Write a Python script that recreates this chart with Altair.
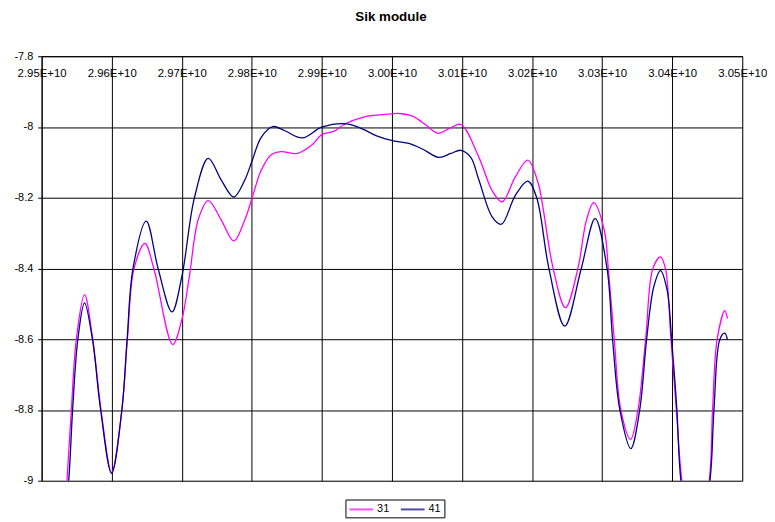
import altair as alt
import pandas as pd

# Series "31" (magenta)
x_31 = [2.95329e10, 2.95362e10, 2.95424e10, 2.95495e10, 2.95612e10, 2.95729e10, 2.95848e10,
        2.95998e10, 2.96145e10, 2.96224e10, 2.96319e10, 2.96474e10, 2.96601e10, 2.96870e10,
        2.97001e10, 2.97110e10, 2.97237e10, 2.97378e10, 2.97566e10, 2.97742e10, 2.97897e10,
        2.98005e10, 2.98132e10, 2.98273e10, 2.98414e10, 2.98650e10, 2.98862e10, 2.99004e10,
        2.99173e10, 2.99315e10, 2.99593e10, 2.99993e10, 3.00106e10, 3.00300e10, 3.00488e10,
        3.00657e10, 3.00813e10, 3.00982e10, 3.01241e10, 3.01430e10, 3.01572e10,
        3.01759e10, 3.01939e10, 3.02089e10, 3.02145e10, 3.02301e10, 3.02476e10, 3.02654e10,
        3.02775e10, 3.02880e10, 3.03031e10, 3.03088e10, 3.03173e10, 3.03267e10, 3.03406e10,
        3.03512e10, 3.03621e10, 3.03724e10, 3.03833e10, 3.03903e10, 3.03982e10, 3.04059e10,
        3.04138e10, 3.04317e10, 3.04529e10, 3.04576e10, 3.04642e10, 3.04751e10, 3.04788e10]
y_31 = [-9.1, -9.0, -8.8, -8.6, -8.474, -8.6, -8.8,
        -8.977, -8.8, -8.6, -8.4, -8.329, -8.4, -8.615,
        -8.545, -8.42, -8.26, -8.208, -8.264, -8.322, -8.264,
        -8.2, -8.123, -8.079, -8.070, -8.075, -8.05, -8.021,
        -8.012, -7.993, -7.972, -7.963, -7.962, -7.970, -7.995,
        -8.018, -8.005, -7.993, -8.086, -8.180, -8.212,
        -8.142, -8.094, -8.160, -8.215, -8.4, -8.511, -8.4,
        -8.264, -8.214, -8.292, -8.4, -8.6, -8.8, -8.883,
        -8.8, -8.6, -8.4, -8.367, -8.4, -8.6, -8.8,
        -9.0, -9.22, -9.0, -8.8, -8.6, -8.519, -8.542]

# Series "41" (navy)
x_41 = [2.95329e10, 2.95386e10, 2.95442e10, 2.95517e10, 2.95612e10, 2.95725e10, 2.95842e10,
        2.95998e10, 2.96145e10, 2.96220e10, 2.96304e10, 2.96492e10, 2.96662e10, 2.96860e10,
        2.97001e10, 2.97181e10, 2.97378e10, 2.97566e10, 2.97742e10, 2.97897e10, 2.98005e10,
        2.98132e10, 2.98297e10, 2.98462e10, 2.98721e10, 2.99004e10, 2.99357e10,
        2.99593e10, 2.99781e10, 2.99993e10, 3.00252e10, 3.00441e10, 3.00667e10, 3.00841e10,
        3.00982e10, 3.01123e10, 3.01241e10, 3.01430e10, 3.01562e10, 3.01759e10, 3.01939e10,
        3.02066e10, 3.02240e10, 3.02466e10, 3.02702e10, 3.02900e10, 3.03070e10, 3.03149e10,
        3.03253e10, 3.03409e10, 3.03536e10, 3.03635e10, 3.03738e10, 3.03833e10, 3.03926e10,
        3.03992e10, 3.04067e10, 3.04124e10, 3.04324e10, 3.04539e10, 3.04596e10, 3.04681e10,
        3.04751e10, 3.04788e10]
y_41 = [-9.1, -9.0, -8.8, -8.6, -8.497, -8.6, -8.8,
        -8.979, -8.8, -8.6, -8.4, -8.266, -8.4, -8.523,
        -8.423, -8.2, -8.089, -8.151, -8.198, -8.151, -8.095,
        -8.030, -7.999, -8.010, -8.031, -8.000, -7.991,
        -8.007, -8.025, -8.038, -8.047, -8.063, -8.086, -8.075,
        -8.066, -8.085, -8.150, -8.254, -8.275, -8.194, -8.153,
        -8.2, -8.4, -8.563, -8.4, -8.259, -8.4, -8.6,
        -8.8, -8.909, -8.8, -8.6, -8.451, -8.406, -8.460,
        -8.6, -8.8, -9.0, -9.25, -9.0, -8.8, -8.6,
        -8.583, -8.602]

series_names = ["31", "41"]
series_colors = ["#FF00FF", "#000080"]
x_ticks = [2.95e10, 2.96e10, 2.97e10, 2.98e10, 2.99e10, 3.00e10,
           3.01e10, 3.02e10, 3.03e10, 3.04e10, 3.05e10]
y_ticks = [-9.0, -8.8, -8.6, -8.4, -8.2, -8.0, -7.8]

df = pd.concat([
    pd.DataFrame({"freq": x_31, "value": y_31, "series": "31", "k": 0}),
    pd.DataFrame({"freq": x_41, "value": y_41, "series": "41", "k": 1}),
], ignore_index=True)

FONT = "Liberation Sans"
W, H = 708, 429

chart = alt.Chart(df).mark_line(
    interpolate="catmull-rom", clip=True, strokeWidth=1.3
).encode(
    x=alt.X("freq:Q",
            scale=alt.Scale(domain=[x_ticks[0], x_ticks[-1]], nice=False, zero=False),
            axis=alt.Axis(values=x_ticks, orient="bottom", offset=-H, title=None,
                          labelExpr="upper(format(datum.value, '.2e'))",
                          grid=True, gridColor="#000000", gridWidth=1, gridOpacity=1,
                          domainColor="#000000", tickSize=0, labelPadding=12,
                          labelFlush=False, labelOverlap=False,
                          labelFontSize=11.5, labelFont=FONT, labelColor="#000000")),
    y=alt.Y("value:Q",
            scale=alt.Scale(domain=[y_ticks[0], y_ticks[-1]], nice=False, zero=False),
            axis=alt.Axis(values=y_ticks, labelExpr="'' + datum.value", title=None,
                          grid=True, gridColor="#000000", gridWidth=1, gridOpacity=1,
                          domainColor="#000000", tickColor="#000000", tickSize=4,
                          labelPadding=5, labelFlush=False,
                          labelFontSize=11, labelFont=FONT, labelColor="#000000")),
    color=alt.Color("series:N",
                    scale=alt.Scale(domain=series_names, range=series_colors),
                    legend=alt.Legend(orient="none", legendX=307, legendY=448,
                                      direction="horizontal", title=None,
                                      strokeColor="#000000", fillColor="#ffffff",
                                      padding=3, symbolType="M-1,0H3", symbolSize=144,
                                      symbolStrokeWidth=2, symbolOpacity=0.7,
                                      labelFontSize=11, labelFont=FONT,
                                      labelColor="#000000", labelOffset=15,
                                      columnPadding=7)),
    order=alt.Order("k:Q"),
).properties(
    width=W, height=H,
    title=alt.TitleParams("Sik module", font=FONT, fontSize=13.5, fontWeight="bold",
                          anchor="middle", offset=16, dx=-1, baseline="alphabetic",
                          color="#000000"),
    autosize=alt.AutoSizeParams(type="none"),
    padding={"left": 34, "top": 46, "right": 25, "bottom": 39},
).configure_view(
    stroke="#808080", strokeWidth=1
).configure(
    background="#ffffff"
)

chart.save("out.html", embed_options={"renderer": "svg", "actions": False})
